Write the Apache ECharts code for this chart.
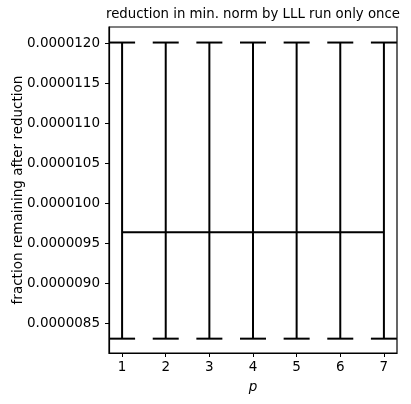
<!DOCTYPE html>
<html>
<head>
<meta charset="utf-8">
<script src="https://cdn.jsdelivr.net/npm/echarts@6/dist/echarts.min.js"></script>
<style>
html,body{margin:0;padding:0;background:#fff;}
#chart{width:411px;height:404px;}
</style>
</head>
<body>
<div id="chart"></div>
<script>
// values
var pValues = [1, 2, 3, 4, 5, 6, 7];
var meanValues = [0.000009638, 0.000009638, 0.000009638, 0.000009638, 0.000009638, 0.000009638, 0.000009638];
var lowerValues = [0.000008309, 0.000008309, 0.000008309, 0.000008309, 0.000008309, 0.000008309, 0.000008309];
var upperValues = [0.000012006, 0.000012006, 0.000012006, 0.000012006, 0.000012006, 0.000012006, 0.000012006];
var xTicks = [1, 2, 3, 4, 5, 6, 7];
var yTicks = [0.0000085, 0.0000090, 0.0000095, 0.0000100, 0.0000105, 0.0000110, 0.0000115, 0.0000120];

var fontName = 'DejaVu Sans';
var myChart = echarts.init(document.getElementById('chart'));

var errData = [];
var lineData = [];
for (var i = 0; i < pValues.length; i++) {
	errData.push([pValues[i], lowerValues[i], upperValues[i]]);
	lineData.push([pValues[i], meanValues[i]]);
}

option = {
	animation: false,
	backgroundColor: '#fff',
	title: {
		text: 'reduction in min. norm by LLL run only once',
		left: 106,
		top: 8,
		padding: 0,
		textStyle: {
			color: '#000',
			fontFamily: fontName,
			fontSize: 13.3,
			fontWeight: 'normal'
		}
	},
	grid: {
		left: 109,
		right: 14,
		top: 27,
		bottom: 51,
		outerBoundsMode: 'none',
		containLabel: false,
		show: true,
		borderColor: '#000',
		borderWidth: 1.2,
		backgroundColor: 'transparent'
	},
	xAxis: {
		type: 'value',
		min: 0.7,
		max: 7.3,
		name: 'p',
		nameLocation: 'middle',
		nameGap: 27,
		nameMoveOverlap: false,
		nameTextStyle: {
			color: '#000',
			fontFamily: fontName,
			fontSize: 13.5,
			fontStyle: 'italic'
		},
		splitLine: { show: false },
		axisLine: { show: true, lineStyle: { color: '#000', width: 1.2 } },
		axisTick: { show: true, customValues: xTicks, length: 4, lineStyle: { color: '#000' } },
		axisLabel: {
			customValues: xTicks,
			color: '#000',
			fontFamily: fontName,
			fontSize: 13.5,
			margin: 7
		}
	},
	yAxis: {
		type: 'value',
		min: 0.00000813,
		max: 0.0000122,
		name: 'fraction remaining after reduction',
		nameLocation: 'middle',
		nameGap: 84,
		nameMoveOverlap: false,
		nameTextStyle: {
			color: '#000',
			fontFamily: fontName,
			fontSize: 13.5
		},
		splitLine: { show: false },
		axisLine: { show: true, lineStyle: { color: '#000', width: 1.2 } },
		axisTick: { show: true, customValues: yTicks, length: 4, lineStyle: { color: '#000' } },
		axisLabel: {
			customValues: yTicks,
			color: '#000',
			fontFamily: fontName,
			fontSize: 13.5,
			margin: 9,
			formatter: function (v) { return v.toFixed(7); }
		}
	},
	series: [
		{
			name: 'mean',
			type: 'line',
			data: lineData,
			symbol: 'none',
			lineStyle: { color: '#000', width: 2 },
			z: 3
		},
		{
			name: 'error',
			type: 'custom',
			data: errData,
			renderItem: function (params, api) {
				var x = api.value(0);
				var lo = api.coord([x, api.value(1)]);
				var hi = api.coord([x, api.value(2)]);
				var half = 13;
				var style = { stroke: '#000', lineWidth: 2 };
				return {
					type: 'group',
					children: [
						{ type: 'line', shape: { x1: lo[0], y1: lo[1], x2: hi[0], y2: hi[1] }, style: style },
						{ type: 'line', shape: { x1: lo[0] - half, y1: lo[1], x2: lo[0] + half, y2: lo[1] }, style: style },
						{ type: 'line', shape: { x1: hi[0] - half, y1: hi[1], x2: hi[0] + half, y2: hi[1] }, style: style }
					]
				};
			},
			clip: true,
			z: 2
		}
	]
};
myChart.setOption(option, true);
</script>
</body>
</html>
